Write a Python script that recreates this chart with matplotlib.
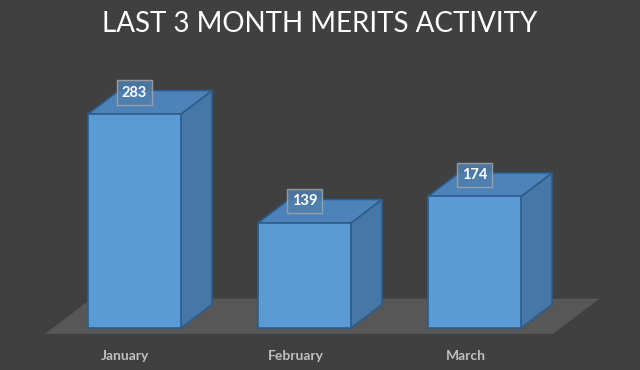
import matplotlib.pyplot as plt
from matplotlib.patches import Polygon

months = ["January", "February", "March"]
merits = [283, 139, 174]
title = "LAST 3 MONTH MERITS ACTIVITY"

# scale: one category = 170 px, one merit = 0.756 px
PX_X = 170.0
PX_Y = 0.756
half_w = 93 / 2 / PX_X
dep_x = 31 / PX_X          # depth of the fake 3d box, in data units
dep_y = 23.5 / PX_Y

bg = "#404040"
front_c = "#5b9bd5"
top_c = "#4d83b8"
side_c = "#4677a6"
edge_c = "#2c5d8c"
floor_c = "#575757"

fig = plt.figure(figsize=(6.4, 3.7), dpi=100, facecolor=bg)
ax = fig.add_axes([0, 0, 1, 1])
ax.set_facecolor(bg)
ax.set_xlim(-134.5 / PX_X, (640 - 134.5) / PX_X)
ax.set_ylim((328 - 370) / PX_Y, 328 / PX_Y)
ax.axis("off")

# floor
fl, fr = -0.481, 2.507
f0, f1 = -0.25, 1.25
floor = [(fl + f0 * dep_x, f0 * dep_y), (fr + f0 * dep_x, f0 * dep_y),
         (fr + f1 * dep_x, f1 * dep_y), (fl + f1 * dep_x, f1 * dep_y)]
ax.add_patch(Polygon(floor, closed=True, facecolor=floor_c, edgecolor="none"))

for i, v in enumerate(merits):
	x0, x1 = i - half_w, i + half_w
	side = [(x1, 0), (x1 + dep_x, dep_y), (x1 + dep_x, v + dep_y), (x1, v)]
	top = [(x0, v), (x1, v), (x1 + dep_x, v + dep_y), (x0 + dep_x, v + dep_y)]
	front = [(x0, 0), (x1, 0), (x1, v), (x0, v)]
	for pts, c in [(side, side_c), (top, top_c), (front, front_c)]:
		ax.add_patch(Polygon(pts, closed=True, facecolor=c, edgecolor=edge_c, lw=1.2))
	ax.annotate(str(v), (i, v), xytext=(0, 15.5), textcoords="offset points",
		ha="center", va="center", color="white", fontsize=10.5, fontweight="bold",
		family="Lato",
		bbox=dict(boxstyle="square,pad=0.35", facecolor="#4f7fae", alpha=0.85,
			edgecolor="#a6a6a6", lw=1))
	ax.annotate(months[i], (i, 0), xytext=(-6.5, -20), textcoords="offset points",
		ha="center", va="center", color="#bfbfbf", fontsize=10,
		fontweight="bold", family="Lato")

fig.text(0.5, 1 - 24 / 370, title, ha="center", va="center", color="white",
	fontsize=20, family="Lato")

fig.savefig("out.png", dpi=100, facecolor=bg)
